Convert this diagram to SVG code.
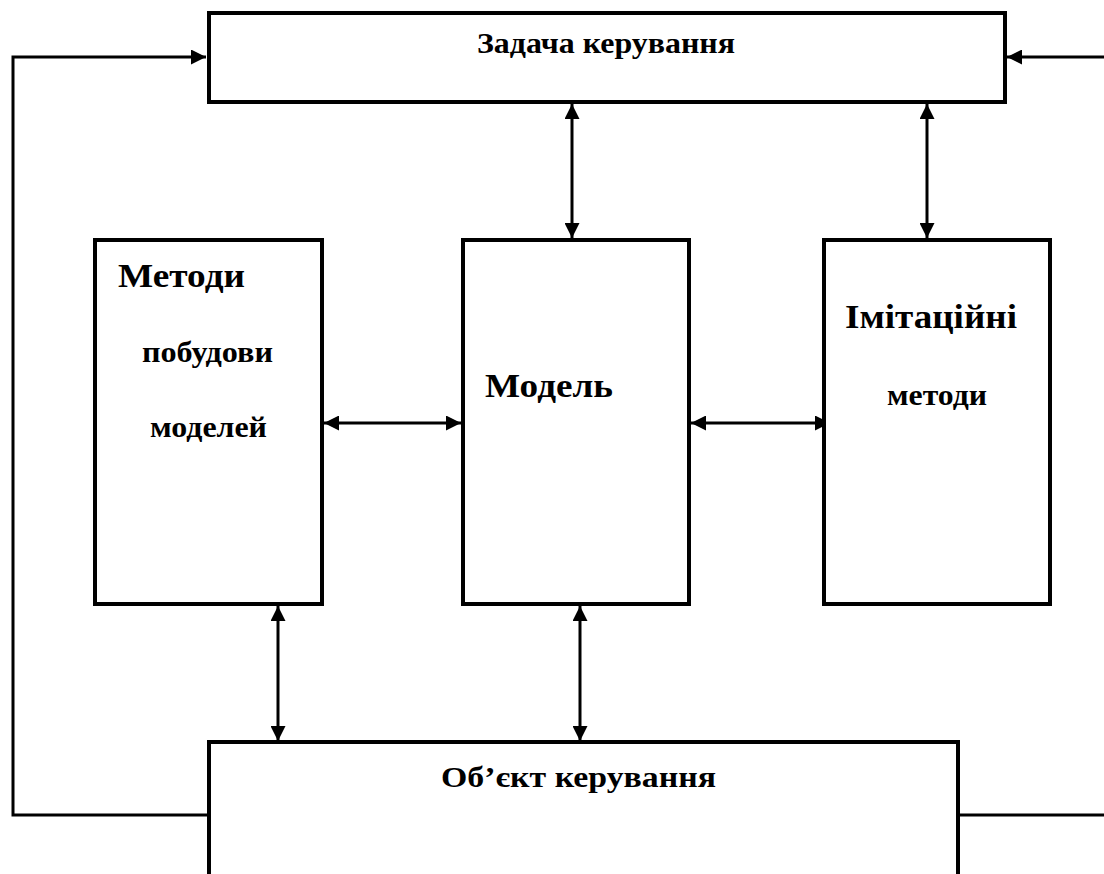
<svg xmlns="http://www.w3.org/2000/svg" width="1104" height="874" viewBox="0 0 1104 874">
<defs>
<marker id="ah" markerWidth="15" markerHeight="15" refX="15" refY="7.5" orient="auto-start-reverse" markerUnits="userSpaceOnUse">
<path d="M0,0 L15,7.5 L0,15 Z" fill="#000"/>
</marker>
<style>
.box{fill:#fff;stroke:#000;stroke-width:4}
.ln{fill:none;stroke:#000;stroke-width:3}
.t{font-family:"Liberation Serif","Times New Roman",serif;font-weight:bold;fill:#000}
.big{font-size:34px}
.mid{font-size:29px}
.sm{font-size:30px}
</style>
</defs>
<rect width="1104" height="874" fill="#fff"/>
<g id="connectors">
<polyline class="ln" points="209,815 13,815 13,57 206,57" marker-end="url(#ah)"/>
<polyline class="ln" points="958,815 1104,815"/>
<line class="ln" x1="1104" y1="57" x2="1007" y2="57" marker-end="url(#ah)"/>
<line class="ln" x1="572" y1="104" x2="572" y2="238" marker-start="url(#ah)" marker-end="url(#ah)"/>
<line class="ln" x1="927" y1="104" x2="927" y2="238" marker-start="url(#ah)" marker-end="url(#ah)"/>
<line class="ln" x1="324" y1="423" x2="461" y2="423" marker-start="url(#ah)" marker-end="url(#ah)"/>
<line class="ln" x1="691" y1="423" x2="830" y2="423" marker-start="url(#ah)" marker-end="url(#ah)"/>
<line class="ln" x1="278" y1="606" x2="278" y2="741" marker-start="url(#ah)" marker-end="url(#ah)"/>
<line class="ln" x1="580" y1="606" x2="580" y2="741" marker-start="url(#ah)" marker-end="url(#ah)"/>
</g>
<g id="task">
<rect class="box" x="209" y="13" width="796" height="89"/>
<text class="t sm" x="477" y="53" textLength="258" lengthAdjust="spacingAndGlyphs">Задача керування</text>
</g>
<g id="methods">
<rect class="box" x="95" y="240" width="227" height="364"/>
<text class="t big" x="118" y="287" textLength="127" lengthAdjust="spacingAndGlyphs">Методи</text>
<text class="t mid" x="142" y="362" textLength="131" lengthAdjust="spacingAndGlyphs">побудови</text>
<text class="t mid" x="150" y="437" textLength="117" lengthAdjust="spacingAndGlyphs">моделей</text>
</g>
<g id="model">
<rect class="box" x="463" y="240" width="226" height="364"/>
<text class="t big" x="485" y="397" textLength="128" lengthAdjust="spacingAndGlyphs">Модель</text>
</g>
<g id="imitation">
<rect class="box" x="824" y="240" width="226" height="364"/>
<text class="t big" x="845" y="328" textLength="172" lengthAdjust="spacingAndGlyphs">Імітаційні</text>
<text class="t mid" x="887" y="405" textLength="100" lengthAdjust="spacingAndGlyphs">методи</text>
</g>
<g id="object">
<rect class="box" x="209" y="742" width="749" height="150"/>
<text class="t sm" x="441" y="787" textLength="275" lengthAdjust="spacingAndGlyphs">Об’єкт керування</text>
</g>
</svg>
